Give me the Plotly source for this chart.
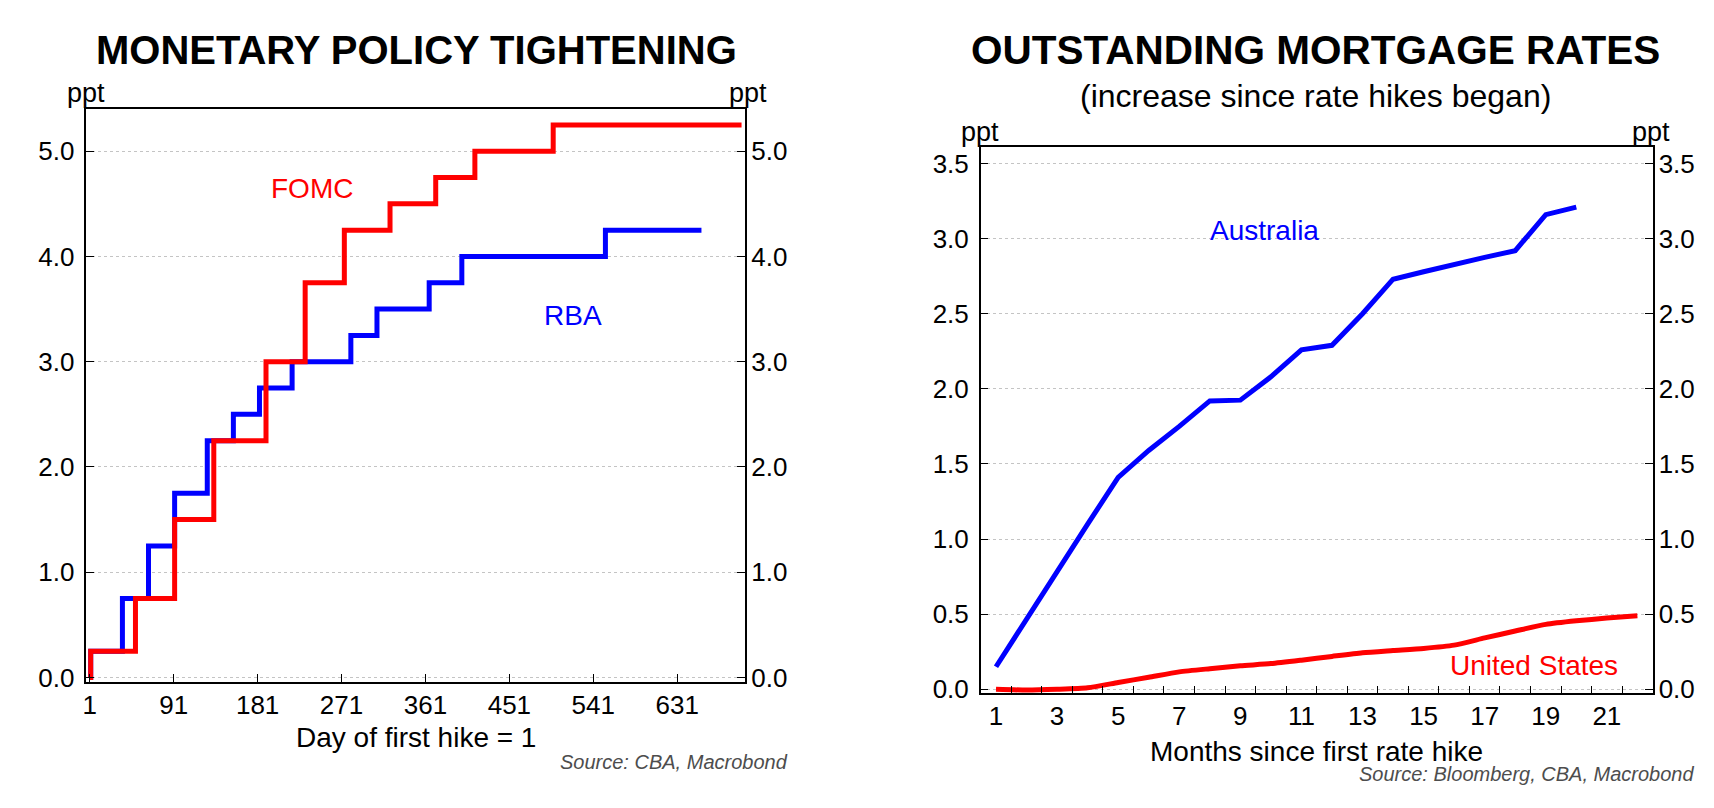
import plotly.graph_objects as go

# ---------------- data ----------------
rba_days = [1, 2, 36, 64, 92, 127, 155, 183, 218, 281, 309, 365, 400, 554, 657]
rba_cum = [0.0, 0.25, 0.75, 1.25, 1.75, 2.25, 2.50, 2.75, 3.00, 3.25, 3.50, 3.75, 4.00, 4.25, 4.25]

fomc_days = [1, 2, 50, 92, 134, 190, 232, 274, 323, 372, 414, 498, 700]
fomc_cum = [0.0, 0.25, 0.75, 1.50, 2.25, 3.00, 3.75, 4.25, 4.50, 4.75, 5.00, 5.25, 5.25]

aus_months = list(range(1, 21))
aus_vals = [0.15, 0.47, 0.78, 1.10, 1.41, 1.59, 1.75, 1.92, 1.925, 2.08,
            2.26, 2.29, 2.50, 2.73, 2.78, 2.83, 2.875, 2.92, 3.16, 3.21]

us_months = list(range(1, 23))
us_vals = [0.0, -0.005, 0.0, 0.01, 0.045, 0.08, 0.116, 0.137, 0.156, 0.171,
           0.194, 0.219, 0.243, 0.258, 0.272, 0.294, 0.342, 0.388, 0.432,
           0.456, 0.474, 0.489]

left_xticks = [1, 91, 181, 271, 361, 451, 541, 631]
left_yticks = [0, 1, 2, 3, 4, 5]
right_xticks = list(range(1, 23, 2))
right_yticks = [0, 0.5, 1.0, 1.5, 2.0, 2.5, 3.0, 3.5]

# ---------------- layout helpers ----------------
W, H = 1714, 808
FONT = "Liberation Sans, Arial, sans-serif"
RED = "#ff0000"
BLUE = "#0000ff"
LW = 5


def px(x):
    return x / W


def py(y):
    return 1 - y / H


fig = go.Figure()

# Left chart
fig.add_trace(go.Scatter(x=rba_days, y=rba_cum, mode="lines", line_shape="hv",
                         line=dict(color=BLUE, width=LW), xaxis="x", yaxis="y",
                         showlegend=False, hoverinfo="skip"))
fig.add_trace(go.Scatter(x=fomc_days, y=fomc_cum, mode="lines", line_shape="hv",
                         line=dict(color=RED, width=LW), xaxis="x", yaxis="y",
                         showlegend=False, hoverinfo="skip"))
fig.add_trace(go.Scatter(x=[None], y=[None], xaxis="x", yaxis="y2",
                         showlegend=False, hoverinfo="skip"))

# Right chart
fig.add_trace(go.Scatter(x=aus_months, y=aus_vals, mode="lines",
                         line=dict(color=BLUE, width=LW), xaxis="x2", yaxis="y3",
                         showlegend=False, hoverinfo="skip"))
fig.add_trace(go.Scatter(x=us_months, y=us_vals, mode="lines", line_shape="spline",
                         line=dict(color=RED, width=LW, smoothing=0.6),
                         xaxis="x2", yaxis="y3",
                         showlegend=False, hoverinfo="skip"))
fig.add_trace(go.Scatter(x=[None], y=[None], xaxis="x2", yaxis="y4",
                         showlegend=False, hoverinfo="skip"))

tickfont = dict(family=FONT, size=26, color="black")
common_y = dict(showgrid=True, gridcolor="#c4c4c4", griddash="dot", gridwidth=1,
                zeroline=False, ticks="inside", ticklen=8, tickcolor="black",
                tickfont=tickfont, tickformat=".1f", ticklabelstandoff=5)
right_y = dict(showline=False, showgrid=False, zeroline=False, ticks="inside",
               ticklen=8, tickcolor="black", tickfont=tickfont, tickformat=".1f",
               ticklabelstandoff=5)

fig.update_layout(
    width=W, height=H,
    margin=dict(l=0, r=0, t=0, b=0),
    paper_bgcolor="white", plot_bgcolor="white",
    xaxis=dict(domain=[px(74.5), px(735)], range=[-2.7, 704],
               tickvals=left_xticks, ticks="inside", ticklen=8, tickcolor="black",
               showline=True, linecolor="black", linewidth=1.5, mirror=True,
               showgrid=False, zeroline=False, tickfont=tickfont, anchor="y",
               ticklabelstandoff=-1),
    yaxis=dict(domain=[py(683), py(102)], range=[-0.04, 5.405],
               tickvals=left_yticks, showline=True, linecolor="black",
               linewidth=1.5, mirror=True, anchor="x", **common_y),
    yaxis2=dict(overlaying="y", side="right", anchor="x", range=[-0.04, 5.405],
                tickvals=left_yticks, **right_y),
    xaxis2=dict(domain=[px(971), px(1644.5)], range=[0.5, 22.5],
                tickvals=right_xticks, ticks="inside", ticklen=0.1,
                tickcolor="rgba(0,0,0,0)",
                minor=dict(tick0=0.5, dtick=1, ticks="inside", ticklen=7,
                           tickcolor="black", showgrid=False),
                showline=True, linecolor="black", linewidth=1.5, mirror=True,
                showgrid=False, zeroline=False, tickfont=tickfont, anchor="y3",
                ticklabelstandoff=-1),
    yaxis3=dict(domain=[py(694.5), py(140.5)], range=[-0.025, 3.613],
                tickvals=right_yticks, showline=True, linecolor="black",
                linewidth=1.5, mirror=True, anchor="x2", **common_y),
    yaxis4=dict(overlaying="y3", side="right", anchor="x2", range=[-0.025, 3.613],
                tickvals=right_yticks, **right_y),
)


def ann(text, x, y, size, color="black", bold=False, italic=False,
        xanchor="center"):
    t = text
    if bold:
        t = "<b>" + t + "</b>"
    if italic:
        t = "<i>" + t + "</i>"
    fig.add_annotation(text=t, x=px(x), y=py(y), xref="paper", yref="paper",
                       xanchor=xanchor, yanchor="middle", showarrow=False,
                       font=dict(family=FONT, size=size, color=color))


# Titles
ann("MONETARY POLICY TIGHTENING", 405, 43, 40, bold=True)
ann("OUTSTANDING MORTGAGE RATES", 1307, 43, 40.5, bold=True)
ann("(increase since rate hikes began)", 1307, 89, 32)

# ppt unit labels
ann("ppt", 74, 86, 27)
ann("ppt", 738, 86, 27)
ann("ppt", 970, 126, 27)
ann("ppt", 1643, 126, 27)

# Series labels
ann("FOMC", 301, 183, 28, color=RED)
ann("RBA", 562, 312, 28, color=BLUE)
ann("Australia", 1255, 226, 28, color=BLUE)
ann("United States", 1526, 667, 28, color=RED)

# Axis titles
ann("Day of first hike = 1", 405, 740, 28)
ann("Months since first rate hike", 1308, 754, 28)

# Sources
ann("Source: CBA, Macrobond", 780, 764, 20, color="#4d4d4d", italic=True,
    xanchor="right")
ann("Source: Bloomberg, CBA, Macrobond", 1688, 777, 20, color="#4d4d4d",
    italic=True, xanchor="right")

fig.write_html("out.html")
